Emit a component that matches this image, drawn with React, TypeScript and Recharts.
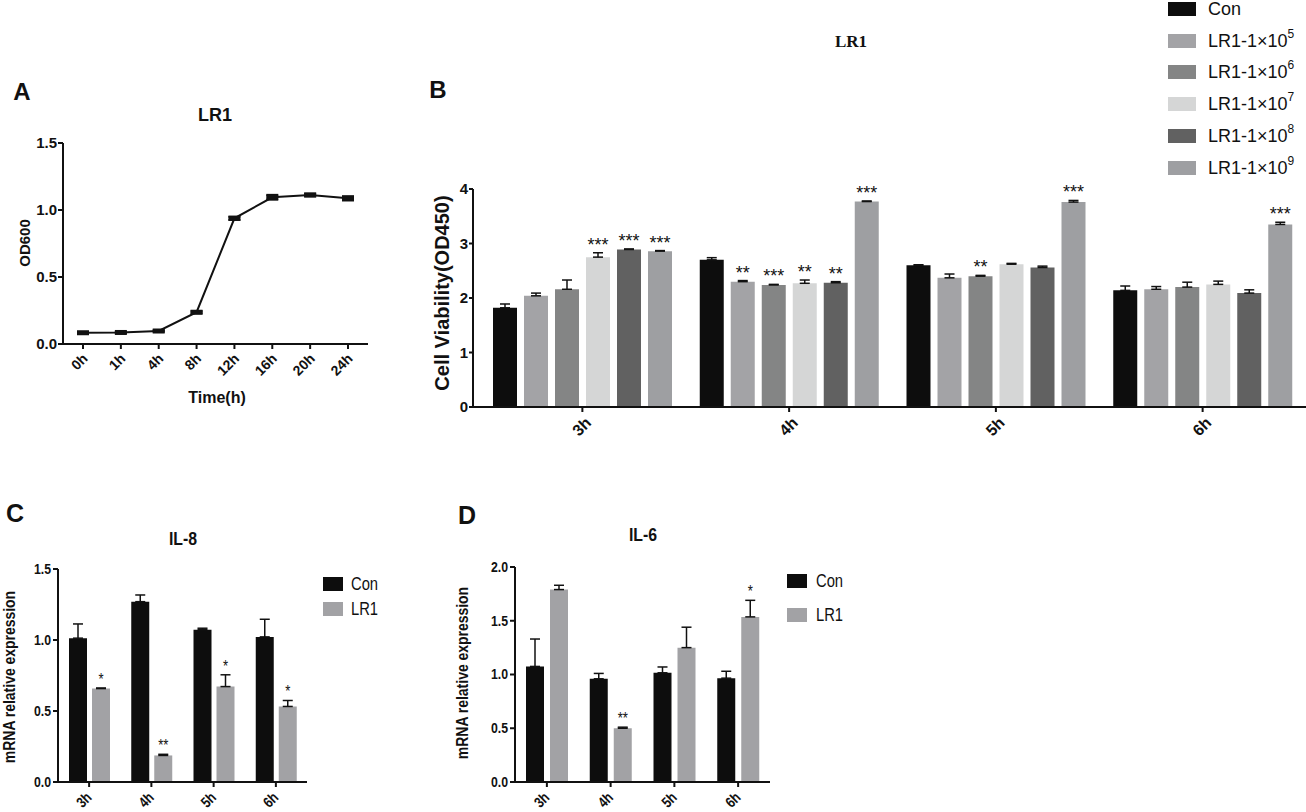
import React from "react";
import { Bar, BarChart, ErrorBar, LabelList, Line, LineChart, XAxis, YAxis } from "recharts";

// A: growth curve
const growthTimes = ["0h", "1h", "4h", "8h", "12h", "16h", "20h", "24h"];
const growthOD = [0.084, 0.086, 0.097, 0.237, 0.938, 1.095, 1.112, 1.087];
const growthErr = [0.005, 0.005, 0.005, 0.008, 0.012, 0.018, 0.01, 0.016];

// B: cell viability
const hours = ["3h", "4h", "5h", "6h"];
const viabSeries = ["con", "d5", "d6", "d7", "d8", "d9"];
const viabNames = ["Con", "LR1-1×10", "LR1-1×10", "LR1-1×10", "LR1-1×10", "LR1-1×10"];
const viabPowers = ["", "5", "6", "7", "8", "9"];
const viabCon = [1.82, 2.7, 2.6, 2.14];
const viabD5 = [2.04, 2.3, 2.37, 2.16];
const viabD6 = [2.16, 2.24, 2.4, 2.2];
const viabD7 = [2.75, 2.27, 2.62, 2.25];
const viabD8 = [2.89, 2.28, 2.56, 2.09];
const viabD9 = [2.86, 3.77, 3.76, 3.35];
const viabConErr = [0.07, 0.04, 0.01, 0.08];
const viabD5Err = [0.05, 0.02, 0.07, 0.05];
const viabD6Err = [0.17, 0.01, 0.015, 0.09];
const viabD7Err = [0.08, 0.06, 0.015, 0.06];
const viabD8Err = [0.01, 0.02, 0.025, 0.06];
const viabD9Err = [0.01, 0.01, 0.03, 0.04];
const viabConStars = ["", "", "", ""];
const viabD5Stars = ["", "**", "", ""];
const viabD6Stars = ["", "***", "**", ""];
const viabD7Stars = ["***", "**", "", ""];
const viabD8Stars = ["***", "**", "", ""];
const viabD9Stars = ["***", "***", "***", "***"];

// C: IL-8
const il8Con = [1.013, 1.27, 1.073, 1.022];
const il8ConErr = [0.1, 0.047, 0.01, 0.124];
const il8Lr1 = [0.658, 0.187, 0.672, 0.532];
const il8Lr1Err = [0.004, 0.008, 0.083, 0.042];
const il8Stars = ["*", "**", "*", "*"];

// D: IL-6
const il6Con = [1.075, 0.96, 1.016, 0.966];
const il6ConErr = [0.255, 0.05, 0.054, 0.064];
const il6Lr1 = [1.79, 0.5, 1.25, 1.536];
const il6Lr1Err = [0.04, 0.01, 0.19, 0.154];
const il6Stars = ["", "**", "", "*"];

const SANS = '"Liberation Sans", Arial, sans-serif';
const INK = "#111";
const NARROW = 0.82; // panels C and D are horizontally squeezed

const viabColors = ["#0d0d0d", "#a3a3a6", "#848585", "#d5d6d6", "#616161", "#9e9fa2"];
const viabValues = [viabCon, viabD5, viabD6, viabD7, viabD8, viabD9];
const viabErrs = [viabConErr, viabD5Err, viabD6Err, viabD7Err, viabD8Err, viabD9Err];
const viabStars = [viabConStars, viabD5Stars, viabD6Stars, viabD7Stars, viabD8Stars, viabD9Stars];

const growthData = growthTimes.map((t, i) => ({ time: t, od: growthOD[i], err: growthErr[i] }));

const viabData = hours.map((h, i) => {
  const row: Record<string, any> = { hour: h };
  viabSeries.forEach((k, s) => {
    row[k] = viabValues[s][i];
    row[k + "Err"] = [0, viabErrs[s][i]];
    row[k + "Star"] = viabStars[s][i];
  });
  return row;
});

const il8Data = hours.map((h, i) => ({
  hour: h,
  con: il8Con[i],
  conErr: [0, il8ConErr[i]],
  lr1: il8Lr1[i],
  lr1Err: [0, il8Lr1Err[i]],
  star: il8Stars[i],
}));

const il6Data = hours.map((h, i) => ({
  hour: h,
  con: il6Con[i],
  conErr: [0, il6ConErr[i]],
  lr1: il6Lr1[i],
  lr1Err: [0, il6Lr1Err[i]],
  star: il6Stars[i],
}));

function Txt({ x, y, size, children, bold = true, family = SANS, rotate = 0, sx = 1 }: any) {
  return (
    <div
      style={{
        position: "absolute",
        left: x,
        top: y,
        transform: `translate(-50%, -50%) rotate(${rotate}deg) scaleX(${sx})`,
        fontFamily: family,
        fontSize: size,
        fontWeight: bold ? 700 : 400,
        color: INK,
        whiteSpace: "nowrap",
        lineHeight: 1,
      }}
    >
      {children}
    </div>
  );
}

function SlantTick(props: any) {
  const { x, y, payload, fs, dx, dy, sx = 1 } = props;
  return (
    <text
      x={0}
      y={0}
      transform={`translate(${x + dx},${y + dy}) rotate(-45) scale(${sx},1)`}
      textAnchor="end"
      dominantBaseline="central"
      fontSize={fs}
      fontWeight="bold"
      fontFamily={SANS}
      fill={INK}
    >
      {payload.value}
    </text>
  );
}

function SqueezedYTick(props: any) {
  const { x, y, payload, fs, sx } = props;
  return (
    <text
      x={0}
      y={0}
      transform={`translate(${x},${y}) scale(${sx},1)`}
      textAnchor="end"
      dominantBaseline="central"
      fontSize={fs}
      fontWeight="bold"
      fontFamily={SANS}
      fill={INK}
    >
      {Number(payload.value).toFixed(1)}
    </text>
  );
}

// star text above the top of the error bar
const starLabel = (vals: number[], errs: number[], size: number, lift: number, sx: number) =>
  (props: any) => {
    const { x, y, width, height, value, index } = props;
    if (!value) return null;
    const ppu = height / vals[index];
    const top = y - errs[index] * ppu;
    return (
      <text
        key={index}
        x={0}
        y={0}
        transform={`translate(${x + width / 2},${top - lift}) scale(${sx},1)`}
        textAnchor="middle"
        fontSize={size}
        fontFamily={SANS}
        fill={INK}
      >
        {value}
      </text>
    );
  };

const axisLine = { stroke: INK, strokeWidth: 2 };
const tickLine = { stroke: INK, strokeWidth: 2 };

function GrowthPanel() {
  return (
    <div style={{ position: "absolute", left: 0, top: 100 }}>
      <LineChart width={400} height={320} data={growthData} margin={{ top: 43, right: 32, bottom: 6, left: 23 }}>
        <XAxis
          dataKey="time"
          padding={{ left: 20, right: 20 }}
          axisLine={axisLine}
          tickLine={tickLine}
          tickSize={5}
          height={70}
          interval={0}
          tick={<SlantTick fs={14} dx={2} dy={5} />}
        />
        <YAxis
          width={40}
          domain={[0, 1.5]}
          ticks={[0, 0.5, 1, 1.5]}
          tickFormatter={(v: number) => v.toFixed(1)}
          axisLine={axisLine}
          tickLine={tickLine}
          tickSize={5}
          tickMargin={1}
          tick={{ fontSize: 15, fontWeight: 700, fill: INK, fontFamily: SANS }}
        />
        <Line
          dataKey="od"
          stroke={INK}
          strokeWidth={2}
          isAnimationActive={false}
          dot={(p: any) => <rect key={p.index} x={p.cx - 6} y={p.cy - 2.5} width={12} height={5} fill={INK} />}
        >
          <ErrorBar dataKey="err" width={6} stroke={INK} strokeWidth={2} direction="y" />
        </Line>
      </LineChart>
      <Txt x={22} y={-8} size={24}>A</Txt>
      <Txt x={215} y={15} size={18}>LR1</Txt>
      <Txt x={24} y={143} size={15} rotate={-90}>OD600</Txt>
      <Txt x={217} y={298} size={16}>Time(h)</Txt>
    </div>
  );
}

function ViabilityPanel() {
  return (
    <div style={{ position: "absolute", left: 420, top: 150 }}>
      <BarChart
        width={886}
        height={320}
        data={viabData}
        margin={{ top: 39, right: 0, bottom: 3, left: 23 }}
        barGap={7}
      >
        <XAxis
          dataKey="hour"
          padding={{ left: 6, right: 0 }}
          axisLine={axisLine}
          tickLine={tickLine}
          tickSize={5}
          height={60}
          tick={<SlantTick fs={16} dx={6} dy={6} />}
        />
        <YAxis
          width={30}
          domain={[0, 4]}
          ticks={[0, 1, 2, 3, 4]}
          axisLine={axisLine}
          tickLine={tickLine}
          tickSize={4}
          tickMargin={1}
          tick={{ fontSize: 15, fontWeight: 700, fill: INK, fontFamily: SANS }}
        />
        {viabSeries.map((k, s) => (
          <Bar key={k} dataKey={k} fill={viabColors[s]} barSize={24} isAnimationActive={false}>
            <ErrorBar dataKey={k + "Err"} width={5} stroke={INK} strokeWidth={1.5} direction="y" />
            <LabelList dataKey={k + "Star"} content={starLabel(viabValues[s], viabErrs[s], 18, 2, 1)} />
          </Bar>
        ))}
      </BarChart>
      <Txt x={18} y={-60} size={24}>B</Txt>
      <Txt x={431} y={-109} size={17} family='"Liberation Serif", "Times New Roman", serif'>LR1</Txt>
      <Txt x={22} y={143} size={20} rotate={-90}>Cell Viability(OD450)</Txt>
      {viabSeries.map((k, s) => (
        <div
          key={k}
          style={{ position: "absolute", left: 748, top: -150 + 9 + s * 31.7 - 7, display: "flex", alignItems: "center", height: 14 }}
        >
          <div style={{ width: 28, height: 14, background: viabColors[s] }} />
          <div style={{ marginLeft: 12, fontFamily: SANS, fontSize: 18, color: INK, whiteSpace: "nowrap", lineHeight: 1 }}>
            {viabNames[s]}
            {viabPowers[s] && <sup style={{ fontSize: 12, verticalAlign: 0, position: "relative", top: -9 }}>{viabPowers[s]}</sup>}
          </div>
        </div>
      ))}
    </div>
  );
}

function CytokinePanel({ left, data, lr1, lr1Err, yMax, yTicks, marginLeft, marginRight, width, top, barGap, letter, title, letterPos, titlePos, ylabPos, legendX, legendY, legendDy, textGap }: any) {
  return (
    <div style={{ position: "absolute", left, top: 520 }}>
      <BarChart
        width={width}
        height={292}
        data={data}
        margin={{ top, right: marginRight, bottom: 2, left: marginLeft }}
        barGap={barGap}
      >
        <XAxis
          dataKey="hour"
          axisLine={axisLine}
          tickLine={tickLine}
          tickSize={5}
          height={28}
          tick={<SlantTick fs={15} dx={0} dy={6} sx={NARROW} />}
        />
        <YAxis
          width={40}
          domain={[0, yMax]}
          ticks={yTicks}
          axisLine={axisLine}
          tickLine={tickLine}
          tickSize={5}
          tickMargin={2}
          tick={<SqueezedYTick fs={15} sx={NARROW} />}
        />
        <Bar dataKey="con" fill="#0d0d0d" barSize={18} isAnimationActive={false}>
          <ErrorBar dataKey="conErr" width={5} stroke={INK} strokeWidth={1.5} direction="y" />
        </Bar>
        <Bar dataKey="lr1" fill="#a2a2a5" barSize={18} isAnimationActive={false}>
          <ErrorBar dataKey="lr1Err" width={5} stroke={INK} strokeWidth={1.5} direction="y" />
          <LabelList dataKey="star" content={starLabel(lr1, lr1Err, 16, 3, NARROW)} />
        </Bar>
      </BarChart>
      <Txt x={letterPos[0]} y={letterPos[1]} size={25}>{letter}</Txt>
      <Txt x={titlePos[0]} y={titlePos[1]} size={18} sx={0.88}>{title}</Txt>
      <Txt x={ylabPos[0]} y={ylabPos[1]} size={17} rotate={-90} sx={NARROW}>mRNA relative expression</Txt>
      {["Con", "LR1"].map((name, s) => (
        <div
          key={name}
          style={{ position: "absolute", left: legendX, top: legendY + s * legendDy - 7, display: "flex", alignItems: "center", height: 14 }}
        >
          <div style={{ width: 20, height: 14, background: s === 0 ? "#0d0d0d" : "#a2a2a5" }} />
          <div
            style={{
              marginLeft: textGap,
              fontFamily: SANS,
              fontSize: 18,
              color: INK,
              lineHeight: 1,
              transform: `scaleX(${NARROW})`,
              transformOrigin: "left center",
            }}
          >
            {name}
          </div>
        </div>
      ))}
    </div>
  );
}

export default function App() {
  return (
    <div
      style={{
        position: "absolute",
        left: 0,
        top: 0,
        width: 1306,
        height: 812,
        background: "#fff",
        overflow: "hidden",
        fontFamily: SANS,
      }}
    >
      <GrowthPanel />
      <ViabilityPanel />
      <CytokinePanel
        left={0}
        width={340}
        top={49}
        marginLeft={18}
        marginRight={33}
        barGap={5}
        data={il8Data}
        lr1={il8Lr1}
        lr1Err={il8Lr1Err}
        yMax={1.5}
        yTicks={[0, 0.5, 1, 1.5]}
        letter="C"
        title="IL-8"
        letterPos={[15, -7]}
        titlePos={[183, 19]}
        ylabPos={[9, 157]}
        legendX={323}
        legendY={64}
        legendDy={25}
        textGap={8}
      />
      <CytokinePanel
        left={440}
        width={360}
        top={47}
        marginLeft={35}
        marginRight={30}
        barGap={6}
        data={il6Data}
        lr1={il6Lr1}
        lr1Err={il6Lr1Err}
        yMax={2}
        yTicks={[0, 0.5, 1, 1.5, 2]}
        letter="D"
        title="IL-6"
        letterPos={[27, -5]}
        titlePos={[203, 15]}
        ylabPos={[22, 153]}
        legendX={347}
        legendY={61}
        legendDy={34}
        textGap={9}
      />
    </div>
  );
}
